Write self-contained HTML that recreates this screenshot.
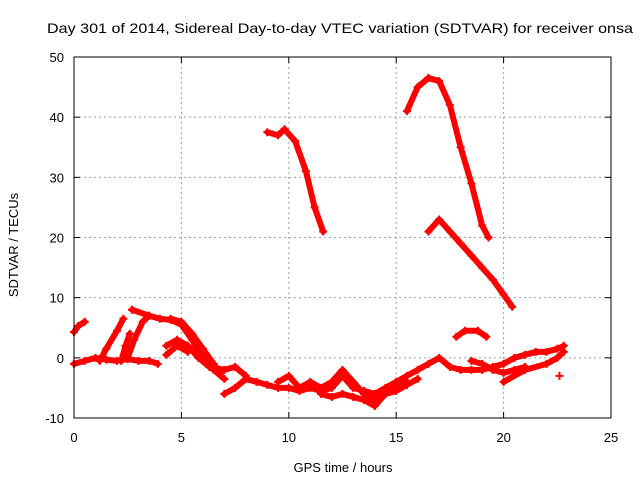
<!DOCTYPE html>
<html><head><meta charset="utf-8">
<style>
body{margin:0;background:#fff;}
svg{display:block;font-family:"Liberation Sans",sans-serif;}
</style></head>
<body>
<svg id="chart" width="640" height="480">
<text x="340" y="33" font-size="14" text-anchor="middle" textLength="586" lengthAdjust="spacingAndGlyphs">Day 301 of 2014, Sidereal Day-to-day VTEC variation (SDTVAR) for receiver onsa</text>
<text x="343" y="472" font-size="13" text-anchor="middle">GPS time / hours</text>
<text x="18" y="245" font-size="13" text-anchor="middle" transform="rotate(-90 18 245)">SDTVAR / TECUs</text>
<g id="grid"></g>
<g id="ticks"></g>
<g id="series"></g>
<rect x="74" y="57" width="537" height="361" fill="none" stroke="#000" stroke-width="1"/>
</svg>
<script>
const xTicks=[0,5,10,15,20,25];
const yTicks=[-10,0,10,20,30,40,50];
const track1=[[0,4.3],[0.2,5.3],[0.5,6]];
const track2=[[0,-1],[0.5,-0.5],[1,0],[1.5,-0.3],[2,-0.5],[2.5,-0.2],[3,-0.5],[3.5,-0.5],[3.9,-1]];
const track3=[[1.2,-0.5],[1.5,1.5],[2,4.5],[2.3,6.5]];
const track4=[[2.5,0],[2.8,3],[3.2,6],[3.5,7]];
const track5=[[2.2,-0.5],[2.4,2],[2.6,4]];
const track6=[[2.7,8],[3.5,7],[4,6.5],[4.5,6.3],[5,5.5],[5.5,3],[6,0],[6.5,-2],[7,-3.5]];
const track7=[[4.5,6.5],[5,6],[5.5,4],[6,1.5],[6.5,-1],[6.8,-2.5]];
const track8=[[4.3,2],[4.8,3],[5.3,2],[5.8,0],[6.3,-1.5],[7,-2],[7.5,-1.5],[8,-3]];
const track9=[[4.3,0.5],[4.8,2],[5.3,1]];
const track10=[[7,-6],[7.5,-5],[8,-3.5],[8.5,-4],[9,-4.5],[9.5,-5],[10,-5],[10.5,-5.5],[11,-5],[11.5,-5.5],[12,-5],[12.5,-3],[13,-5],[13.5,-5.5],[14,-6],[14.5,-5],[15,-4],[15.5,-3],[16,-2],[16.5,-1],[17,0],[17.5,-1.5],[18,-2],[18.5,-2],[19,-2],[19.5,-1.5],[20,-1],[20.5,0],[21,0.5],[21.5,1],[22,1],[22.5,1.5],[22.8,2]];
const track11=[[9.5,-4],[10,-3],[10.5,-5],[11,-4],[11.5,-5],[12,-4],[12.5,-2],[13,-4],[13.5,-6],[14,-7],[14.5,-6],[15,-5],[15.5,-4]];
const track12=[[11.5,-6],[12,-6.5],[12.5,-6],[13,-6.5],[13.5,-7],[14,-8],[14.5,-6],[15,-5.5],[15.5,-4.5],[16,-3.5]];
const track13=[[9,37.5],[9.5,37],[9.8,38],[10.3,36],[10.8,31],[11.2,25],[11.6,21]];
const track14=[[15.5,41],[16,45],[16.5,46.5],[17,46],[17.5,42],[18,35],[18.5,29],[19,22],[19.3,20]];
const track15=[[16.5,21],[17,23],[17.5,21],[18,19],[18.5,17],[19,15],[19.5,13],[20,10.5],[20.4,8.5]];
const track16=[[17.8,3.5],[18.2,4.5],[18.8,4.5],[19.2,3.5]];
const track17=[[18.5,-0.5],[19,-1],[19.5,-2],[20,-2.5],[20.5,-2],[21,-1.5]];
const track18=[[20,-4],[21,-2],[22,-1],[22.5,0],[22.8,1]];
const track19=[[22.6,-3]];
const tracks=[track1,track2,track3,track4,track5,track6,track7,track8,track9,track10,track11,track12,track13,track14,track15,track16,track17,track18,track19];
const X0=74,X1=611,Y0=418,Y1=57;
const xs=v=>X0+(v-0)/(25-0)*(X1-X0);
const ys=v=>Y0-(v+10)/(60)*(Y0-Y1);
const NS='http://www.w3.org/2000/svg';
const grid=document.getElementById('grid'),ticks=document.getElementById('ticks'),ser=document.getElementById('series');
function mk(tag,attrs,parent){const e=document.createElementNS(NS,tag);for(const k in attrs)e.setAttribute(k,attrs[k]);parent.appendChild(e);return e;}
xTicks.forEach(t=>{const x=xs(t);
 if(t>0&&t<25){const g=mk('line',{x1:x,x2:x,y1:Y1,y2:Y0,stroke:'#a0a0a0','stroke-dasharray':'2,3'},grid);
 
 }
 mk('line',{x1:x,x2:x,y1:Y0,y2:Y0-6,stroke:'#000'},ticks);mk('line',{x1:x,x2:x,y1:Y1,y2:Y1+6,stroke:'#000'},ticks);
 const l=mk('text',{x:x,y:Y0+24,'font-size':13,'text-anchor':'middle'},ticks);l.textContent=t;
 
 });
yTicks.forEach(t=>{const y=ys(t);
 if(t>-10&&t<50){const g=mk('line',{x1:X0,x2:X1,y1:y,y2:y,stroke:'#a0a0a0','stroke-dasharray':'2,3'},grid);
 
 }
 mk('line',{x1:X0,x2:X0+6,y1:y,y2:y,stroke:'#000'},ticks);mk('line',{x1:X1,x2:X1-6,y1:y,y2:y,stroke:'#000'},ticks);
 const l=mk('text',{x:X0-10,y:y+5,'font-size':13,'text-anchor':'end'},ticks);l.textContent=t;
 
 });
tracks.forEach(tr=>{
 const p=mk('polyline',{points:tr.map(d=>xs(d[0])+','+ys(d[1])).join(' '),fill:'none',stroke:'#ff0000','stroke-width':6,'stroke-linejoin':'round','stroke-linecap':'round'},ser);
 
 
 tr.forEach(d=>{const x=xs(d[0]),y=ys(d[1]);
  const m=mk('path',{d:`M${x-4},${y}H${x+4}M${x},${y-4}V${y+4}`,stroke:'#ff0000','stroke-width':2},ser);
  
  });
});
</script>
</body></html>
